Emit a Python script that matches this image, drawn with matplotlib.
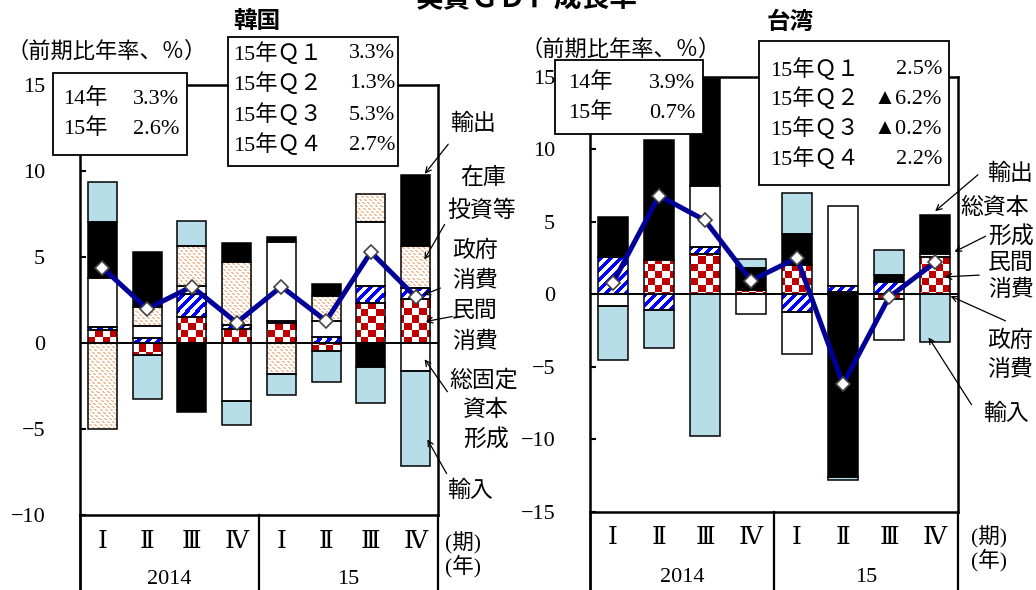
import numpy as np
import matplotlib
matplotlib.use("Agg")
import matplotlib.pyplot as plt
from matplotlib.colors import to_rgb
from matplotlib.patches import Rectangle, FancyArrowPatch
from matplotlib import transforms

plt.rcParams['font.family'] = ['Liberation Serif', 'DejaVu Serif', 'Noto Sans CJK JP']

# ---------------- data ----------------
quarters = ['Ⅰ', 'Ⅱ', 'Ⅲ', 'Ⅳ', 'Ⅰ', 'Ⅱ', 'Ⅲ', 'Ⅳ']
years = ['2014', '15']

# Korea (contributions, %pt, annualized q/q)
kr_private = [0.77, -0.70, 1.55, 0.83, 1.16, -0.43, 2.36, 2.56]
kr_gov = [0.15, 0.30, 1.30, 0.25, 0.13, 0.35, 0.99, 0.68]
kr_gfcf = [2.90, 0.73, 0.48, -3.34, 4.60, 0.97, 3.69, -1.59]
kr_inv = [-5.00, 1.10, 2.35, 3.66, -1.80, 1.45, 1.66, 2.39]
kr_exp = [3.24, 3.16, -4.00, 1.07, 0.30, 0.66, -1.36, 4.17]
kr_imp = [2.33, -2.55, 1.43, -1.42, -1.20, -1.80, -2.13, -5.55]
kr_gdp = [4.4, 2.0, 3.3, 1.2, 3.3, 1.3, 5.3, 2.7]

# Taiwan
tw_private = [0.00, 2.37, 2.76, 0.30, 2.02, 0.15, -0.30, 2.58]
tw_gov = [2.60, -1.08, 0.52, 0.00, -1.20, 0.40, 0.85, 0.00]
tw_gcf = [-0.80, 0.00, 4.19, -1.38, -2.90, 5.57, -2.85, 0.17]
tw_exp = [2.76, 8.25, 7.40, 1.50, 2.12, -12.58, 0.46, 2.71]
tw_imp = [-3.75, -2.60, -9.77, 0.62, 2.83, -0.23, 1.72, -3.30]
tw_gdp = [0.8, 6.8, 5.1, 0.95, 2.5, -6.2, -0.2, 2.2]

kr_box_year = [('14年', '3.3%'), ('15年', '2.6%')]
kr_box_q = [('15年Ｑ１', '3.3%'), ('15年Ｑ２', '1.3%'), ('15年Ｑ３', '5.3%'), ('15年Ｑ４', '2.7%')]
tw_box_year = [('14年', '3.9%'), ('15年', '0.7%')]
tw_box_q = [('15年Ｑ１', '2.5%'), ('15年Ｑ２', '▲6.2%'), ('15年Ｑ３', '▲0.2%'), ('15年Ｑ４', '2.2%')]

# ---------------- style ----------------
RED = '#C00000'
BLUE = '#0000FF'
ORANGE = '#F6B88E'
LBLUE = '#B7DEE8'
NAVY = '#000099'
CJK = 'Noto Sans CJK JP'

W, H = 1036, 590
fig = plt.figure(figsize=(W / 100, H / 100), dpi=100)


def frect(x0, x1, ytop, ybot):
    return [x0 / W, 1 - ybot / H, (x1 - x0) / W, (ybot - ytop) / H]


def fp(x, y):
    return (x / W, 1 - y / H)


def texture(kind, w, h):
    j = np.arange(w)[None, :].astype(float)
    i = np.arange(h)[:, None].astype(float)
    img = np.ones((h, w, 3))
    if kind == 'checker':
        s = 7.2
        m = ((np.floor(j / s) + np.floor(i / s)) % 2) == 0
        c = to_rgb(RED)
    elif kind == 'stripe':
        m = ((j + i) % 10) < 4.2
        c = to_rgb(BLUE)
    else:
        m = (((j - i) % 5) < 1.4) & ((i % 3) != 2)
        c = to_rgb(ORANGE)
    m = np.broadcast_to(m, (h, w))
    img[m] = c
    return img


def panel(px, ylim, yticks, series, gdp):
    ax = fig.add_axes(frect(*px))
    wpx = int(round(px[1] - px[0]))
    hpx = int(round(px[3] - px[2]))
    x = np.arange(len(quarters))
    pos = np.zeros(len(x))
    neg = np.zeros(len(x))
    for vals, style in series:
        v = np.array(vals, dtype=float)
        bottom = np.where(v >= 0, pos, neg)
        fc = {'checker': 'white', 'stripe': 'white', 'orange': 'white',
              'white': 'white', 'black': 'black', 'lblue': LBLUE}[style]
        bars = ax.bar(x, v, 0.65, bottom=bottom, color=fc, linewidth=0, zorder=2)
        if style in ('checker', 'stripe', 'orange'):
            img = texture(style, wpx, hpx)
            for b, val in zip(bars, v):
                if val == 0:
                    continue
                im = ax.imshow(img, extent=(-0.5, 7.5, ylim[0], ylim[1]), origin='upper',
                               interpolation='nearest', aspect='auto', zorder=2.1)
                im.set_clip_path(b)
        lws = [1.1 if val != 0 else 0 for val in v]
        ax.bar(x, v, 0.65, bottom=bottom, fill=False, edgecolor='black', linewidth=lws, zorder=2.2)
        pos = pos + np.where(v > 0, v, 0)
        neg = neg + np.where(v < 0, v, 0)
    ax.axhline(0, color='black', lw=1.4, zorder=2.5)
    ax.plot(x, gdp, color=NAVY, lw=3.6, marker='D', ms=7, mfc='white', mec='#444444',
            mew=1.2, zorder=3, clip_on=False)
    ax.set_xlim(-0.5, 7.5)
    ax.set_ylim(*ylim)
    ax.set_aspect('auto')
    ax.set_xticks([])
    ax.set_yticks(yticks)
    ax.tick_params(axis='y', direction='in', length=4.5, width=1.5, pad=25, labelsize=16)
    for s in ax.spines.values():
        s.set_linewidth(1.8)
    # category area
    tr = transforms.blended_transform_factory(ax.transData, fig.transFigure)
    axb = 1 - px[3] / H
    for xv, lw in [(-0.5, 2.0), (3.5, 1.6), (7.5, 1.6)]:
        ax.plot([xv, xv], [0, axb], transform=tr, color='black', lw=lw, clip_on=False)
    return ax, tr


kr_series = [(kr_private, 'checker'), (kr_gov, 'stripe'), (kr_gfcf, 'white'),
             (kr_inv, 'orange'), (kr_exp, 'black'), (kr_imp, 'lblue')]
tw_series = [(tw_private, 'checker'), (tw_gov, 'stripe'), (tw_gcf, 'white'),
             (tw_exp, 'black'), (tw_imp, 'lblue')]

axK, trK = panel((80, 438, 85.3, 515.3), (-10, 15), [-10, -5, 0, 5, 10, 15], kr_series, kr_gdp)
axT, trT = panel((590, 958, 76.8, 511.8), (-15, 15), [-15, -10, -5, 0, 5, 10, 15], tw_series, tw_gdp)

for ax, tr, yq, yy in [(axK, trK, 542, 580), (axT, trT, 538, 577)]:
    for i, q in enumerate(quarters):
        ax.text(i, 1 - yq / H, q, transform=tr, ha='center', va='center', fontsize=18)
    ax.text(1.5, 1 - yy / H, years[0], transform=tr, ha='center', va='center', fontsize=16)
    ax.text(5.5, 1 - yy / H, years[1], transform=tr, ha='center', va='center', fontsize=16)

fig.text(*fp(445, 543), '(期)', ha='left', va='center', fontsize=15.5)
fig.text(*fp(445, 566), '(年)', ha='left', va='center', fontsize=15.5)
fig.text(*fp(971, 537), '(期)', ha='left', va='center', fontsize=15.5)
fig.text(*fp(971, 560), '(年)', ha='left', va='center', fontsize=15.5)

# titles
fig.text(*fp(527, 7), '実質ＧＤＰ成長率', ha='center', va='baseline', fontsize=20,
         family=CJK, weight='bold')
fig.text(*fp(257, 21), '韓国', ha='center', va='center', fontsize=17, family=CJK, weight='bold')
fig.text(*fp(790, 22), '台湾', ha='center', va='center', fontsize=17, family=CJK, weight='bold')
fig.text(*fp(6, 52), '（前期比年率、％）', ha='left', va='center', fontsize=16)
fig.text(*fp(520, 50), '（前期比年率、％）', ha='left', va='center', fontsize=16)


def box(x0, x1, y0, y1, rows, ys, xl, xr):
    fig.add_artist(Rectangle(fp(x0, y1), (x1 - x0) / W, (y1 - y0) / H, transform=fig.transFigure,
                             facecolor='white', edgecolor='black', lw=1.3, zorder=5))
    for (lab, val), yy in zip(rows, ys):
        fig.text(*fp(xl, yy), lab, ha='left', va='center', fontsize=16, zorder=6)
        fig.text(*fp(xr, yy), val, ha='right', va='center', fontsize=16, zorder=6)


box(53, 187, 73, 155, kr_box_year, [99, 129], 63, 179)
box(228, 398, 37, 166, kr_box_q, [54, 84, 115, 145], 233, 395)
box(555, 703, 60, 134, tw_box_year, [83, 113], 568, 695)
box(759, 949, 41, 185, tw_box_q, [70, 99, 129, 159], 770, 942)


def label(x, y, s, ha='center'):
    fig.text(*fp(x, y), s, ha=ha, va='center', fontsize=16.5, family=CJK)


def arrow(a, b):
    fig.add_artist(FancyArrowPatch(fp(*a), fp(*b), transform=fig.transFigure, arrowstyle='->',
                                   mutation_scale=10, lw=0.9, color='black', zorder=7))


# Korea annotations
label(473, 123, '輸出')
label(483, 178, '在庫')
label(482, 210, '投資等')
label(475, 250, '政府')
label(475, 280, '消費')
label(475, 310, '民間')
label(475, 342, '消費')
label(484, 380, '総固定')
label(486, 410, '資本')
label(486, 440, '形成')
label(470, 490, '輸入')
arrow((450, 142), (423, 176))
arrow((446, 222), (423, 262))
arrow((443, 287), (421, 296))
arrow((455, 316), (423, 322))
arrow((449, 394), (423, 357))
arrow((448, 476), (426, 437))

# Taiwan annotations
label(987, 173, '輸出', ha='left')
label(960, 208, '総資本', ha='left')
label(988, 237, '形成', ha='left')
label(988, 262, '民間', ha='left')
label(988, 290, '消費', ha='left')
label(987, 340, '政府', ha='left')
label(987, 370, '消費', ha='left')
label(983, 413, '輸入', ha='left')
arrow((980, 173), (933, 213))
arrow((988, 235), (952, 253))
arrow((982, 275), (942, 277))
arrow((1008, 322), (948, 295))
arrow((973, 407), (927, 335))

fig.savefig('out.png', dpi=100)
